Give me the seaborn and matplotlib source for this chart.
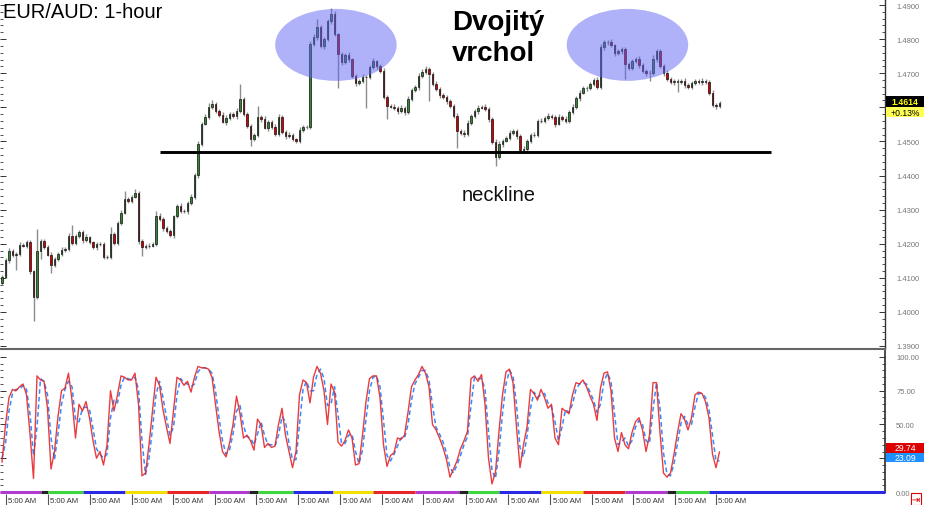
import numpy as np
import pandas as pd
import matplotlib
matplotlib.use("Agg")
import matplotlib.pyplot as plt
from matplotlib.patches import Ellipse, Rectangle
import seaborn as sns

# ---------------- data ----------------
first_open = 1.4085
close = [
    1.4103, 1.4151, 1.4179, 1.4168, 1.4171, 1.4196, 1.4194, 1.4205, 1.4120, 1.4044,
    1.4179, 1.4208, 1.4191, 1.4168, 1.4139, 1.4156, 1.4171, 1.4182, 1.4185, 1.4222,
    1.4202, 1.4222, 1.4234, 1.4211, 1.4219, 1.4205, 1.4191, 1.4199, 1.4199, 1.4162,
    1.4162, 1.4228, 1.4202, 1.4262, 1.4291, 1.4332, 1.4326, 1.4338, 1.4350, 1.4208,
    1.4191, 1.4194, 1.4194, 1.4199, 1.4281, 1.4273, 1.4247, 1.4237, 1.4226, 1.4281,
    1.4311, 1.4297, 1.4297, 1.4319, 1.4338, 1.4402, 1.4493, 1.4552, 1.4572, 1.4602,
    1.4610, 1.4590, 1.4578, 1.4558, 1.4569, 1.4581, 1.4575, 1.4590, 1.4625, 1.4581,
    1.4545, 1.4507, 1.4519, 1.4572, 1.4566, 1.4540, 1.4558, 1.4543, 1.4522, 1.4572,
    1.4527, 1.4516, 1.4519, 1.4507, 1.4502, 1.4534, 1.4543, 1.4543, 1.4786, 1.4806,
    1.4835, 1.4780, 1.4800, 1.4852, 1.4875, 1.4814, 1.4756, 1.4732, 1.4753, 1.4741,
    1.4692, 1.4671, 1.4677, 1.4689, 1.4689, 1.4718, 1.4735, 1.4721, 1.4707, 1.4630,
    1.4605, 1.4602, 1.4599, 1.4590, 1.4599, 1.4585, 1.4625, 1.4651, 1.4660, 1.4692,
    1.4704, 1.4712, 1.4698, 1.4668, 1.4654, 1.4636, 1.4630, 1.4619, 1.4605, 1.4575,
    1.4531, 1.4525, 1.4522, 1.4555, 1.4575, 1.4590, 1.4599, 1.4602, 1.4596, 1.4566,
    1.4499, 1.4455, 1.4493, 1.4502, 1.4510, 1.4525, 1.4531, 1.4516, 1.4475, 1.4478,
    1.4502, 1.4519, 1.4519, 1.4561, 1.4561, 1.4569, 1.4575, 1.4572, 1.4552, 1.4572,
    1.4566, 1.4561, 1.4585, 1.4602, 1.4627, 1.4643, 1.4657, 1.4657, 1.4668, 1.4680,
    1.4660, 1.4776, 1.4791, 1.4791, 1.4782, 1.4759, 1.4765, 1.4770, 1.4727, 1.4715,
    1.4735, 1.4741, 1.4724, 1.4707, 1.4701, 1.4701, 1.4741, 1.4765, 1.4721, 1.4701,
    1.4683, 1.4674, 1.4677, 1.4674, 1.4677, 1.4666, 1.4660, 1.4671, 1.4677, 1.4674,
    1.4677, 1.4674, 1.4643, 1.4607, 1.4605, 1.4614,
]
# upper / lower shadow lengths beyond the body, in pips
up_wick_pips = [
    5, 6, 8, 5, 4, 10, 6, 7, 5, 4, 63, 6, 5, 4, 8, 5, 6, 7, 5, 9,
    34, 6, 5, 7, 8, 5, 4, 6, 5, 7, 6, 20, 5, 6, 8, 23, 6, 5, 9, 4,
    6, 5, 7, 5, 15, 8, 6, 5, 7, 4, 6, 8, 5, 6, 9, 5, 7, 6, 8, 10,
    12, 6, 5, 8, 7, 6, 5, 9, 42, 6, 5, 7, 6, 32, 5, 8, 6, 5, 7, 9,
    5, 6, 8, 5, 4, 7, 6, 5, 8, 9, 23, 6, 7, 8, 17, 6, 5, 7, 6, 8,
    5, 6, 7, 8, 5, 6, 9, 5, 6, 7, 5, 6, 8, 5, 7, 6, 9, 5, 6, 8,
    7, 10, 6, 5, 8, 6, 5, 7, 6, 5, 8, 6, 7, 9, 6, 5, 8, 6, 7, 5,
    6, 8, 7, 5, 6, 9, 5, 6, 7, 8, 5, 6, 9, 5, 7, 6, 8, 5, 6, 7,
    5, 8, 6, 7, 5, 9, 6, 5, 7, 6, 8, 10, 7, 6, 9, 5, 7, 8, 6, 5,
    7, 6, 8, 5, 6, 9, 12, 7, 6, 5, 8, 6, 7, 5, 6, 8, 5, 7, 6, 5,
    8, 6, 5, 7, 6, 5,
]
dn_wick_pips = [
    6, 5, 7, 8, 45, 6, 5, 7, 9, 72, 5, 23, 6, 5, 25, 7, 6, 8, 5, 6,
    7, 5, 6, 8, 5, 7, 6, 9, 5, 8, 6, 7, 5, 6, 8, 5, 7, 6, 5, 9,
    26, 6, 8, 5, 7, 6, 9, 5, 6, 8, 5, 7, 6, 9, 5, 6, 8, 7, 5, 6,
    8, 6, 7, 5, 9, 6, 5, 8, 7, 6, 5, 20, 7, 6, 8, 5, 9, 6, 7, 5,
    6, 9, 5, 7, 6, 8, 5, 6, 7, 5, 8, 6, 9, 5, 7, 6, 100, 8, 6, 7,
    5, 8, 6, 7, 90, 6, 5, 8, 7, 6, 40, 5, 7, 9, 6, 8, 5, 6, 7, 8,
    6, 5, 80, 7, 6, 8, 5, 9, 6, 7, 50, 6, 8, 5, 7, 6, 9, 5, 6, 8,
    7, 26, 6, 8, 5, 7, 6, 9, 5, 8, 6, 7, 5, 6, 8, 7, 5, 6, 9, 5,
    6, 8, 7, 5, 6, 9, 5, 8, 6, 7, 5, 6, 8, 7, 5, 9, 6, 8, 43, 6,
    7, 5, 8, 6, 9, 25, 6, 7, 5, 8, 6, 7, 9, 28, 6, 8, 5, 7, 6, 5,
    8, 6, 7, 5, 9, 6,
]
stoch_k = [
    22, 50, 70, 76, 75, 78, 80, 72, 43, 10, 86, 83, 82, 62, 17, 30, 56, 75, 77, 88,
    68, 40, 65, 60, 67, 55, 38, 25, 30, 20, 35, 75, 60, 72, 86, 85, 83, 83, 88, 65,
    12, 14, 35, 60, 85, 79, 61, 48, 36, 60, 85, 83, 79, 82, 74, 85, 93, 92, 92, 91,
    85, 65, 45, 30, 26, 36, 50, 71, 58, 40, 42, 38, 31, 54, 50, 33, 36, 33, 34, 50,
    62, 42, 30, 18, 30, 72, 83, 81, 66, 85, 93, 88, 75, 50, 80, 74, 37, 34, 38, 46,
    40, 20, 21, 42, 67, 84, 86, 86, 70, 35, 19, 27, 29, 40, 39, 42, 59, 78, 83, 87,
    93, 88, 78, 50, 46, 40, 33, 24, 11, 17, 23, 32, 38, 45, 84, 86, 82, 87, 65, 25,
    6, 15, 45, 72, 89, 91, 81, 48, 18, 35, 48, 76, 73, 68, 76, 70, 62, 65, 40, 35,
    62, 60, 58, 72, 81, 80, 83, 78, 71, 65, 53, 77, 88, 89, 75, 40, 30, 44, 35, 32,
    44, 52, 55, 46, 30, 42, 81, 81, 44, 14, 11, 14, 28, 44, 58, 54, 46, 55, 72, 74,
    73, 67, 55, 28, 18, 29.74,
]
stoch_d = [
    25, 36, 60, 73, 76, 76, 79, 76, 58, 27, 48, 84, 82, 72, 40, 24, 43, 65, 76, 82,
    78, 54, 52, 62, 63, 61, 47, 32, 28, 25, 28, 55, 68, 66, 79, 85, 84, 83, 85, 76,
    38, 13, 25, 47, 72, 82, 70, 55, 42, 48, 72, 84, 81, 80, 78, 80, 89, 92, 92, 91,
    88, 75, 55, 38, 28, 31, 43, 60, 64, 49, 41, 40, 35, 43, 52, 42, 35, 35, 34, 42,
    56, 52, 36, 24, 24, 50, 76, 82, 75, 75, 87, 91, 84, 64, 65, 78, 57, 36, 36, 42,
    43, 30, 21, 31, 54, 75, 85, 86, 78, 53, 27, 23, 28, 34, 40, 40, 50, 68, 80, 85,
    90, 90, 83, 64, 48, 43, 37, 29, 18, 14, 20, 27, 35, 41, 64, 85, 84, 84, 76, 45,
    16, 10, 30, 58, 80, 90, 86, 65, 33, 26, 41, 62, 74, 70, 72, 73, 66, 63, 52, 38,
    48, 61, 59, 65, 76, 80, 81, 80, 74, 68, 59, 65, 82, 88, 82, 58, 35, 37, 40, 34,
    38, 48, 53, 50, 38, 36, 61, 81, 62, 29, 13, 12, 21, 36, 51, 56, 50, 50, 63, 73,
    73, 70, 61, 42, 23, 23.09,
]
neckline_price = 1.4470
neckline_span = (45.1, 219.7)           # bar index range
tops = [(95.4, 1.4783), (178.7, 1.4783)]  # centres of the two highlighted tops
price_ticks = [1.39, 1.40, 1.41, 1.42, 1.43, 1.44, 1.45, 1.46, 1.47, 1.48, 1.49]
stoch_ticks = [0, 25, 50, 75, 100]
last_price_label = "1.4614"
change_label = "+0.13%"
k_label, d_label = "29.74", "23.09"
session_edges = [-0.6, 11, 13, 23, 35, 47, 59, 70.5, 73, 83, 94.5, 106, 118,
                 130.5, 133, 142, 154, 166, 178, 190, 192.5, 202, 252.3]
session_colors = ["#b13bd1", "#222222", "#3ed83e", "#2a2ae6", "#f0e000", "#e8262a",
                  "#b13bd1", "#222222", "#3ed83e", "#2a2ae6", "#f0e000", "#e8262a",
                  "#b13bd1", "#222222", "#3ed83e", "#2a2ae6", "#f0e000", "#e8262a",
                  "#b13bd1", "#222222", "#3ed83e", "#2a2ae6"]
time_tick_pos = [1.4, 13.4, 25.4, 37.4, 49.1, 61.1, 72.9, 84.9, 96.9, 108.9,
                 120.6, 132.9, 144.9, 156.9, 168.9, 180.6, 192.6, 204.3]
time_labels = ["5:00 AM"] * len(time_tick_pos)

# ---------------- style ----------------
sns.set_theme(style="white")
plt.rcParams["font.family"] = ["Liberation Sans", "DejaVu Sans"]

W, H = 925, 506
fig = plt.figure(figsize=(W / 100, H / 100), dpi=100)
fig.patch.set_facecolor("white")

XL = (-2 / 3.5, 883 / 3.5)

def fax(x0, y0, x1, y1):
    return fig.add_axes([x0 / W, 1 - y1 / H, (x1 - x0) / W, (y1 - y0) / H])

ax1 = fax(0, 0, 885, 350)
ax2 = fax(0, 352, 885, 497)
ax3 = fax(0, 491, 885, 506)

n = len(close)
idx = np.arange(n)
closes = np.array(close)
opens = np.r_[first_open, closes[:-1]]
highs = np.maximum(opens, closes) + np.array(up_wick_pips) * 1e-4
lows = np.minimum(opens, closes) - np.array(dn_wick_pips) * 1e-4

# ---------------- price panel ----------------
ax1.vlines(idx, lows, highs, color="#8c8c8c", lw=1.0, zorder=2)
body_col = np.where(closes >= opens, "#2f8a2f", "#d40000")
ax1.bar(idx, closes - opens, bottom=opens, width=0.55, color=body_col,
        edgecolor="#111111", linewidth=0.5, zorder=3)

for cx, cy in tops:
    ax1.add_patch(Ellipse((cx, cy), 34.7, 0.0211, facecolor=(0.38, 0.40, 0.95),
                          alpha=0.5, edgecolor="none", zorder=4))
ax1.hlines(neckline_price, *neckline_span, color="black", lw=2.1, zorder=5)

ax1.set_xlim(*XL)
ax1.set_ylim(1.38912, 1.49176)
ax1.set_xticks([])
ax1.set_yticks(price_ticks)
# the 1.4600 label sits under the last-price box in the reference
ax1.set_yticklabels(["" if abs(v - 1.46) < 1e-9 else f"{v:.4f}" for v in price_ticks])
ax1.yaxis.set_minor_locator(matplotlib.ticker.MultipleLocator(0.002))
ax1.tick_params(axis="y", which="both", direction="in", left=True, right=True,
                labelleft=False, labelright=True, colors="#333333",
                labelcolor="#777777", labelsize=5.5, pad=8)
ax1.tick_params(axis="y", which="major", length=4, width=0.7)
ax1.tick_params(axis="y", which="minor", length=2, width=0.6)
for s in ("top", "left"):
    ax1.spines[s].set_visible(False)
ax1.spines["right"].set_color("#333333")
ax1.spines["right"].set_linewidth(1.0)
ax1.spines["bottom"].set_color("#666666")
ax1.spines["bottom"].set_linewidth(1.5)
ax1.grid(False)

# ---------------- stochastic panel ----------------
df = pd.DataFrame({"bar": idx, "K": stoch_k, "D": stoch_d})
sns.lineplot(data=df, x="bar", y="D", ax=ax2, color="#2f8cff", lw=1.1)
ax2.lines[-1].set_dashes([3, 2])
sns.lineplot(data=df, x="bar", y="K", ax=ax2, color="#e8262a", lw=1.0, alpha=0.9)
ax2.set_xlabel("")
ax2.set_ylabel("")
ax2.set_xlim(*XL)
ax2.set_ylim(-2.96, 104.44)
ax2.set_xticks([])
ax2.set_yticks(stoch_ticks)
# the 25.00 label sits under the %K / %D value boxes in the reference
ax2.set_yticklabels(["" if v == 25 else f"{v:.2f}" for v in stoch_ticks])
ax2.yaxis.set_minor_locator(matplotlib.ticker.MultipleLocator(5))
ax2.tick_params(axis="y", which="both", direction="in", left=True, right=True,
                labelleft=False, labelright=True, colors="#333333",
                labelcolor="#777777", labelsize=5.5, pad=8)
ax2.tick_params(axis="y", which="major", length=4, width=0.7)
ax2.tick_params(axis="y", which="minor", length=2, width=0.6)
for s in ("top", "left", "bottom"):
    ax2.spines[s].set_visible(False)
ax2.spines["right"].set_color("#333333")
ax2.spines["right"].set_bounds(0, 104.44)
ax2.patch.set_alpha(0)
ax2.grid(False)

# ---------------- session strip + time labels ----------------
ax3.set_xlim(*XL)
ax3.set_ylim(0, 1)
ax3.axis("off")
ax3.patch.set_facecolor("white")
for a, b, c in zip(session_edges[:-1], session_edges[1:], session_colors):
    ax3.hlines(0.9, a, b, color=c, lw=2.2, clip_on=False)
for p, lab in zip(time_tick_pos, time_labels):
    ax3.vlines(p - 0.3, 0, 0.75, color="#555555", lw=0.8)
    ax3.text(p + 0.4, 0.33, lab, fontsize=5.6, color="#333333",
             ha="left", va="center")

# ---------------- labels / boxes ----------------
def px_box(x0, y0, x1, y1, fc, ec="none"):
    fig.add_artist(Rectangle((x0 / W, 1 - y1 / H), (x1 - x0) / W, (y1 - y0) / H,
                             transform=fig.transFigure, facecolor=fc,
                             edgecolor=ec, lw=0.8, zorder=5))

def px_text(x, y, s, **kw):
    fig.text(x / W, 1 - y / H, s, zorder=6, **kw)

px_box(886, 97, 924, 108, "black")
px_text(905, 102.5, last_price_label, color="#ffff00", fontsize=6.2,
        weight="bold", ha="center", va="center")
px_box(886, 108, 924, 118, "#ffff55")
px_text(905, 113, change_label, color="black", fontsize=6.2,
        ha="center", va="center")

px_box(886, 444, 924, 454, "#dd0000")
px_text(905, 449, k_label, color="white", fontsize=6.2, ha="center", va="center")
px_box(886, 454, 924, 463, "#1e90ff")
px_text(905, 458.5, d_label, color="white", fontsize=6.2, ha="center", va="center")

px_text(916, 500, "\u21e5", color="#e00000", fontsize=7, ha="center", va="center",
        family="DejaVu Sans",
        bbox=dict(boxstyle="square,pad=0.12", fc="white", ec="#e00000", lw=0.8))

px_text(3, 18.3, "EUR/AUD: 1-hour", fontsize=14.5, color="black",
        ha="left", va="baseline")
px_text(452, 30, "Dvojitý", fontsize=20, weight="bold", color="black",
        ha="left", va="baseline")
px_text(452, 61, "vrchol", fontsize=20, weight="bold", color="black",
        ha="left", va="baseline")
px_text(462, 201, "neckline", fontsize=14.5, color="#111111",
        ha="left", va="baseline")

fig.savefig("out.png", dpi=100)
